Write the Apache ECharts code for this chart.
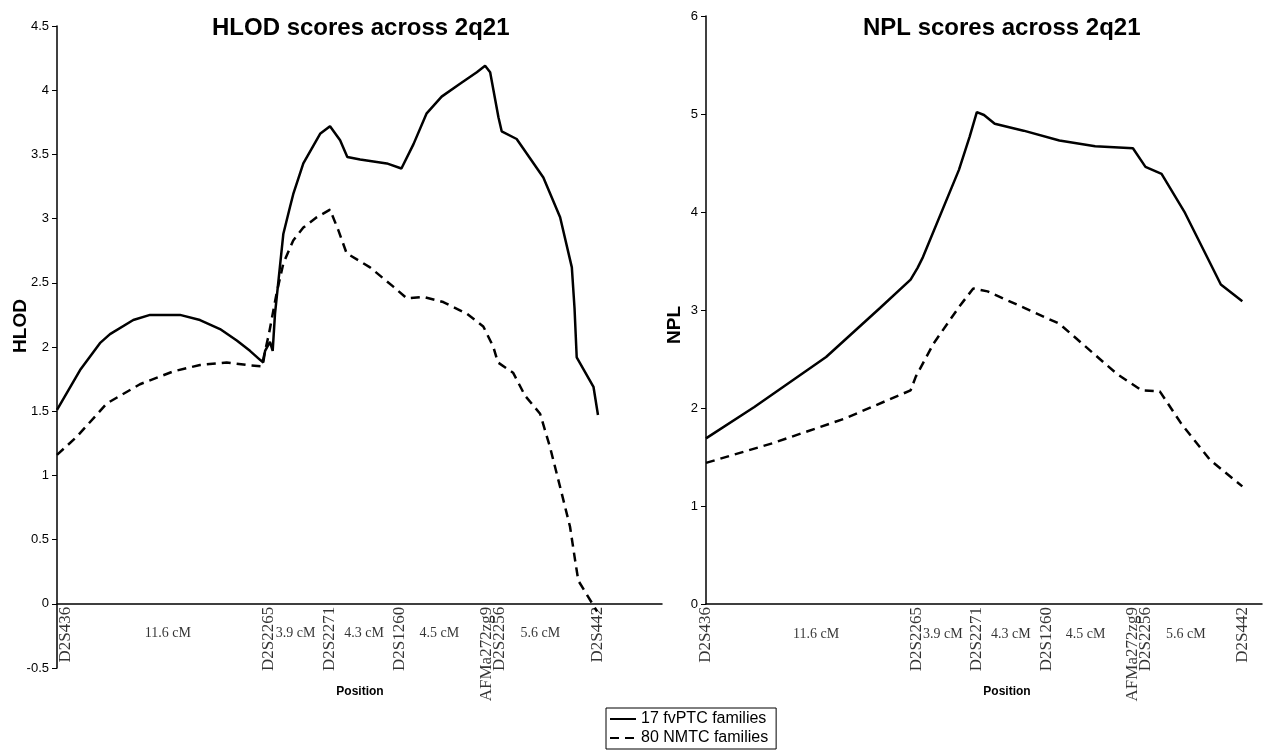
<!DOCTYPE html>
<html><head><meta charset="utf-8">
<script src="https://cdn.jsdelivr.net/npm/echarts@6/dist/echarts.min.js"></script>
<style>html,body{margin:0;padding:0;background:#fff}#c{width:1263px;height:755px}</style>
</head><body><div id="c"></div>
<script>
// ---- data ----
const seriesNames = ['17 fvPTC families', '80 NMTC families'];
const markerNames = ['D2S436', 'D2S2265', 'D2S2271', 'D2S1260', 'AFMa272zg9', 'D2S2256', 'D2S442'];
const markerPos = [0, 11.75, 15.1, 19.0, 23.8, 24.55, 30.0];
const intervalNames = ['11.6 cM', '3.9 cM', '4.3 cM', '4.5 cM', '5.6 cM'];
const intervalPos = [6.15, 13.23, 17.03, 21.2, 26.8];
const hlodTicks = [-0.5, 4.5, 0.5];
const nplTicks = [0, 6, 1];

const hlodFvptc = [[0,1.51],[1.28,1.82],[2.38,2.03],[2.94,2.10],[4.23,2.21],[5.16,2.25],[6.82,2.25],[7.93,2.21],[9.04,2.14],[9.97,2.05],[10.70,1.97],[11.26,1.90],[11.44,1.88],[11.54,1.97],[11.81,2.04],[11.96,1.97],[12.09,2.26],[12.55,2.88],[12.92,3.09],[13.10,3.19],[13.66,3.43],[14.59,3.66],[15.14,3.72],[15.70,3.61],[16.10,3.48],[16.81,3.46],[18.29,3.43],[19.1,3.39],[19.77,3.58],[20.50,3.82],[21.33,3.95],[22.35,4.05],[23.28,4.14],[23.74,4.19],[24.02,4.14],[24.48,3.79],[24.66,3.68],[25.49,3.62],[26.97,3.32],[27.90,3.01],[28.55,2.62],[28.70,2.30],[28.82,1.92],[29.75,1.69],[30.0,1.47]];
const hlodNmtc = [[0,1.16],[1.09,1.30],[2.76,1.56],[4.60,1.71],[6.45,1.81],[7.93,1.86],[9.41,1.88],[10.52,1.86],[11.35,1.85],[11.75,2.10],[12.18,2.42],[12.55,2.65],[13.10,2.83],[13.66,2.93],[14.40,3.01],[15.14,3.07],[15.60,2.91],[16.06,2.73],[17.36,2.62],[18.65,2.47],[19.39,2.38],[20.31,2.39],[21.42,2.35],[22.72,2.26],[23.64,2.16],[24.20,2.00],[24.45,1.88],[25.29,1.80],[25.96,1.62],[26.79,1.48],[27.34,1.22],[27.90,0.91],[28.45,0.60],[28.73,0.34],[28.91,0.18],[29.65,0.01],[29.95,-0.06]];
const nplFvptc = [[0,1.69],[2.70,2.01],[6.71,2.52],[9.72,3.02],[11.43,3.31],[11.82,3.43],[12.12,3.54],[14.13,4.43],[14.73,4.77],[15.13,5.02],[15.53,4.99],[16.13,4.90],[17.74,4.83],[19.74,4.73],[21.74,4.67],[23.85,4.65],[24.55,4.46],[25.45,4.39],[26.76,3.99],[28.16,3.48],[28.76,3.26],[29.96,3.09]];
const nplNmtc = [[0,1.44],[3.71,1.64],[7.72,1.89],[11.43,2.18],[11.72,2.32],[12.72,2.66],[14.13,3.03],[14.93,3.22],[15.73,3.19],[19.74,2.86],[22.94,2.35],[24.34,2.18],[25.35,2.17],[26.55,1.84],[28.16,1.47],[29.96,1.20]];

// ---- chart ----
const BLACK = '#000';
const SANS = 'Liberation Sans';
const SERIF = 'Liberation Serif';

function xAxisCfg(gridIndex, max) {
  return {
    type: 'value', gridIndex, min: 0, max,
    axisLine: { onZero: true, lineStyle: { color: BLACK, width: 1.5 } },
    axisTick: { show: false }, splitLine: { show: false },
    axisLabel: { show: false }
  };
}
function yAxisCfg(gridIndex, t) {
  return {
    type: 'value', gridIndex, min: t[0], max: t[1], interval: t[2],
    axisLine: { show: true, onZero: false, lineStyle: { color: BLACK, width: 1.5 } },
    axisTick: { show: true, length: 5, lineStyle: { color: BLACK, width: 1 } },
    splitLine: { show: false },
    axisLabel: { color: BLACK, fontFamily: SANS, fontSize: 13, margin: 8 }
  };
}
function lineSeries(name, xi, data, dashed) {
  return {
    type: 'line', name, xAxisIndex: xi, yAxisIndex: xi, data, symbol: 'none', smooth: false,
    lineStyle: { color: BLACK, width: 2.5, type: dashed ? [9, 6] : 'solid' },
    itemStyle: { color: BLACK }, animation: false
  };
}
function markerSeries(xi, shiftFirst) {
  return {
    type: 'scatter', xAxisIndex: xi, yAxisIndex: xi, silent: true, clip: false,
    symbolSize: 1, itemStyle: { color: 'rgba(0,0,0,0)' },
    data: markerNames.map((n, i) => ({ value: [markerPos[i], 0], name: n })),
    label: {
      show: true, position: 'inside', rotate: 90, align: 'right', verticalAlign: 'middle',
      padding: [0, 3, 0, 0],
      formatter: p => (shiftFirst && p.dataIndex === 0) ? '{p|' + p.name + '}' : p.name,
      fontFamily: SERIF, fontSize: 17, color: BLACK,
      rich: { p: { padding: [18, 0, 0, 0], fontFamily: SERIF, fontSize: 17, color: BLACK } }
    },
    animation: false
  };
}
function intervalSeries(xi) {
  return {
    type: 'scatter', xAxisIndex: xi, yAxisIndex: xi, silent: true, clip: false,
    symbolSize: 1, itemStyle: { color: 'rgba(0,0,0,0)' },
    data: intervalNames.map((n, i) => ({ value: [intervalPos[i], 0], name: n })),
    label: { show: true, formatter: '{b}', position: 'inside', offset: [0, 30], fontFamily: SERIF, fontSize: 14, color: BLACK },
    animation: false
  };
}

const chart = echarts.init(document.getElementById('c'), null, { renderer: 'canvas' });
chart.setOption({
  backgroundColor: '#fff',
  animation: false,
  title: [
    { text: 'HLOD scores across 2q21', left: 207, top: 11, textStyle: { fontFamily: SANS, fontWeight: 'bold', fontSize: 24, color: BLACK } },
    { text: 'NPL scores across 2q21', left: 858, top: 11, textStyle: { fontFamily: SANS, fontWeight: 'bold', fontSize: 24, color: BLACK } }
  ],
  legend: {
    data: seriesNames, orient: 'vertical', left: 606, top: 708,
    padding: [3, 8, 3, 3], itemGap: 3, itemWidth: 26, itemHeight: 14,
    borderColor: BLACK, borderWidth: 1,
    itemStyle: { opacity: 0 },
    textStyle: { fontFamily: SANS, fontSize: 16, color: BLACK }
  },
  grid: [
    { left: 57, top: 26, width: 605, height: 642, outerBoundsMode: 'none', containLabel: false },
    { left: 706, top: 16, width: 556, height: 588, outerBoundsMode: 'none', containLabel: false }
  ],
  xAxis: [xAxisCfg(0, 33.55), xAxisCfg(1, 31.06)],
  yAxis: [yAxisCfg(0, hlodTicks), yAxisCfg(1, nplTicks)],
  graphic: [
    { type: 'text', x: 21, y: 326, rotation: Math.PI / 2, style: { text: 'HLOD', x: 0, y: 0, align: 'center', verticalAlign: 'middle', font: 'bold 19px "Liberation Sans"', fill: BLACK } },
    { type: 'text', x: 675, y: 325, rotation: Math.PI / 2, style: { text: 'NPL', x: 0, y: 0, align: 'center', verticalAlign: 'middle', font: 'bold 19px "Liberation Sans"', fill: BLACK } },
    { type: 'text', x: 360, y: 692, style: { text: 'Position', align: 'center', verticalAlign: 'middle', font: 'bold 12px "Liberation Sans"', fill: BLACK } },
    { type: 'text', x: 1007, y: 692, style: { text: 'Position', align: 'center', verticalAlign: 'middle', font: 'bold 12px "Liberation Sans"', fill: BLACK } }
  ],
  series: [
    lineSeries(seriesNames[0], 0, hlodFvptc, false),
    lineSeries(seriesNames[1], 0, hlodNmtc, true),
    lineSeries(seriesNames[0], 1, nplFvptc, false),
    lineSeries(seriesNames[1], 1, nplNmtc, true),
    markerSeries(0, true), markerSeries(1, false),
    intervalSeries(0), intervalSeries(1)
  ]
});
</script></body></html>
